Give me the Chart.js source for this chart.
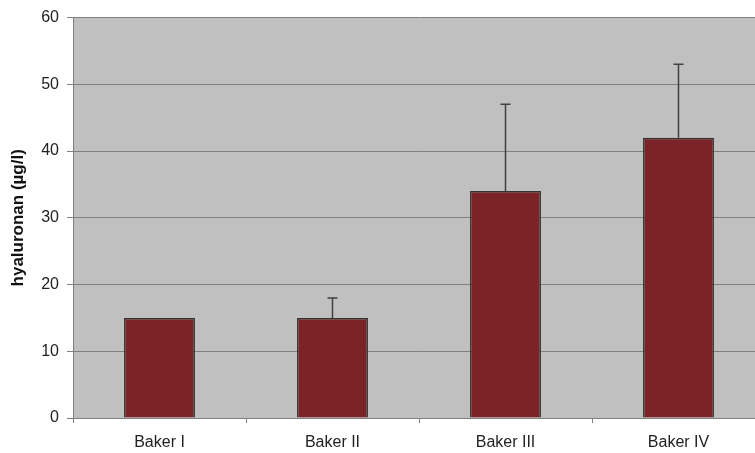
<!DOCTYPE html>
<html>
<head>
<meta charset="utf-8">
<script src="https://cdn.jsdelivr.net/npm/chart.js@4/dist/chart.umd.min.js"></script>
<style>
  html, body { margin: 0; padding: 0; background: #fff; overflow: hidden; }
  #wrap { position: relative; width: 765px; height: 453px; }
</style>
</head>
<body>
<div id="wrap"><canvas id="c" width="765" height="453"></canvas></div>
<script>
// Groups and measured hyaluronan levels
const categories = ['Baker I', 'Baker II', 'Baker III', 'Baker IV'];
const means = [15, 15, 34, 42];
// Upper error (added on top of each mean)
const errorsUp = [0, 3, 13, 11];
const yTicks = [0, 10, 20, 30, 40, 50, 60];

const FONT = '"Liberation Sans", Arial, sans-serif';

// Grey panel behind the plot area
const panelBg = {
  id: 'panelBg',
  beforeDraw(chart) {
    const { ctx, chartArea: a } = chart;
    ctx.save();
    ctx.fillStyle = '#c0c0c0';
    ctx.fillRect(a.left, a.top, a.right - a.left, a.bottom - a.top);
    ctx.restore();
  }
};

// One-sided (upward) error bars with caps
const errorBars = {
  id: 'errorBars',
  afterDatasetsDraw(chart) {
    const { ctx, scales: { y } } = chart;
    const meta = chart.getDatasetMeta(0);
    ctx.save();
    ctx.strokeStyle = '#404040';
    ctx.lineWidth = 1.5;
    meta.data.forEach((bar, i) => {
      if (!errorsUp[i]) return;
      const x = bar.x;
      const y0 = y.getPixelForValue(means[i]);
      const y1 = y.getPixelForValue(means[i] + errorsUp[i]);
      ctx.beginPath();
      ctx.moveTo(x, y0);
      ctx.lineTo(x, y1);
      ctx.moveTo(x - 5, y1);
      ctx.lineTo(x + 5, y1);
      ctx.stroke();
    });
    ctx.restore();
  }
};

new Chart(document.getElementById('c'), {
  type: 'bar',
  data: {
    labels: categories,
    datasets: [{
      data: means,
      backgroundColor: '#7b2427',
      borderColor: '#333333',
      borderWidth: 1.5,
      categoryPercentage: 0.82,
      barPercentage: 0.5
    }]
  },
  options: {
    responsive: false,
    animation: false,
    devicePixelRatio: 1,
    layout: { padding: { top: 16, right: 0, bottom: 0, left: 0 } },
    plugins: { legend: { display: false }, tooltip: { enabled: false } },
    scales: {
      x: {
        offset: true,
        grid: { drawOnChartArea: false, drawTicks: true, tickLength: 5, color: '#808080', offset: true },
        border: { display: true, color: '#808080', width: 1 },
        ticks: { color: '#222', font: { family: FONT, size: 16 }, padding: 10 },
        afterFit(s) { s.height = 35; }
      },
      y: {
        min: 0, max: 60,
        afterBuildTicks(s) { s.ticks = yTicks.map(v => ({ value: v })); },
        grid: { color: '#808080', lineWidth: 1, tickLength: 6 },
        border: { display: true, color: '#808080', width: 1 },
        ticks: { color: '#222', font: { family: FONT, size: 16 }, padding: 8 },
        title: {
          display: true,
          text: 'hyaluronan (µg/l)',
          color: '#111',
          font: { family: FONT, size: 17, weight: 'bold' },
          padding: { top: 8, bottom: 0 }
        },
        afterFit(s) { s.width = 73; }
      }
    }
  },
  plugins: [panelBg, errorBars]
});
</script>
</body>
</html>
